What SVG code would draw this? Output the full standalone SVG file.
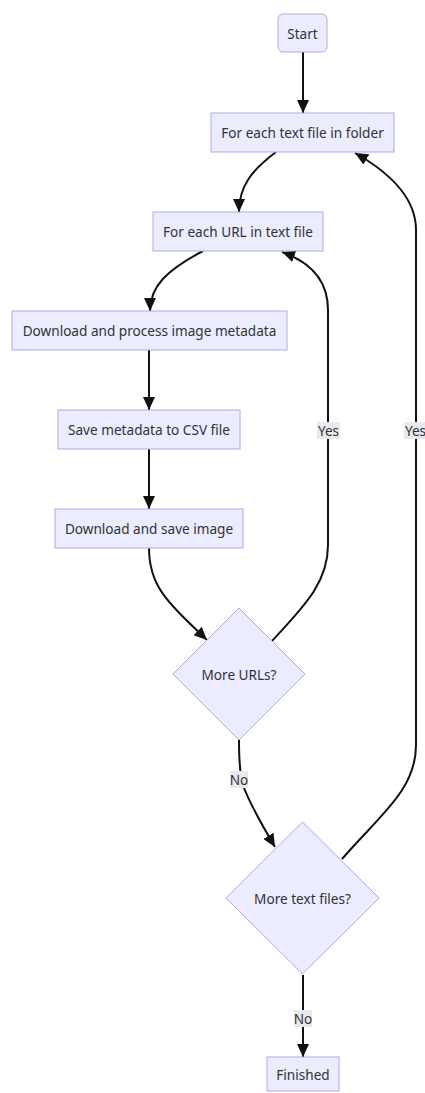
<svg xmlns="http://www.w3.org/2000/svg" width="425" height="1093" viewBox="0 0 425 1093">
<defs>
<style>
.node rect, .node polygon { fill: #ECECFF; stroke: #b3a8e4; stroke-width: 1; }
.node text { font-family: "Noto Sans", "Open Sans", sans-serif; font-size: 13.6px; fill: #333; text-anchor: middle; dominant-baseline: central; }
.edge { fill: none; stroke: #111; stroke-width: 2; }
.lbl rect { fill: #e8e8ee; }
.lbl text { font-family: "Noto Sans", "Open Sans", sans-serif; font-size: 13.6px; fill: #333; text-anchor: middle; dominant-baseline: central; }
</style>
<marker id="arr" viewBox="0 0 13 12" refX="13" refY="6" markerWidth="13" markerHeight="12" markerUnits="userSpaceOnUse" orient="auto">
<path d="M0,0 L13,6 L0,12 Z" fill="#111"/>
</marker>
</defs>
<rect width="425" height="1093" fill="#ffffff"/>
<g id="connectors">
<path class="edge" d="M303,52 L303,113" marker-end="url(#arr)"/>
<path class="edge" d="M276,152 C252,170 239,186 239,212" marker-end="url(#arr)"/>
<path class="edge" d="M203,251 C167,270 150,286 150,311" marker-end="url(#arr)"/>
<path class="edge" d="M149,350 L149,410" marker-end="url(#arr)"/>
<path class="edge" d="M149,449 L149,509" marker-end="url(#arr)"/>
<path class="edge" d="M149,548 C149,585 165,600 207,640" marker-end="url(#arr)"/>
<path class="edge" d="M272,641 C300,610 328,585 328,545 L328,310 C328,280 310,262 282,252" marker-end="url(#arr)"/>
<path class="edge" d="M239,740 C239,760 240,775 243,785 C248,800 262,825 275,847" marker-end="url(#arr)"/>
<path class="edge" d="M342,859 C380,815 416,790 416,745 L416,230 C416,195 385,170 355,153" marker-end="url(#arr)"/>
<path class="edge" d="M303,975 L303,1057" marker-end="url(#arr)"/>
<g class="lbl"><rect x="317" y="422" width="23" height="17"/><text x="328.5" y="430.5">Yes</text></g>
<g class="lbl"><rect x="404" y="422" width="23" height="17"/><text x="415.5" y="430.5">Yes</text></g>
<g class="lbl"><rect x="230" y="771" width="18" height="17"/><text x="239" y="779.5">No</text></g>
<g class="lbl"><rect x="294" y="1010" width="18" height="17"/><text x="303" y="1018.5">No</text></g>
</g>
<g id="start" class="node"><rect x="278" y="14" width="49" height="38" rx="5"/><text x="302.5" y="33">Start</text></g>
<g id="eachText" class="node"><rect x="211" y="113" width="183" height="39"/><text x="302.5" y="132.5">For each text file in folder</text></g>
<g id="eachUrl" class="node"><rect x="153" y="212" width="170" height="39"/><text x="238" y="231.5">For each URL in text file</text></g>
<g id="download" class="node"><rect x="12" y="311" width="275" height="39"/><text x="149.5" y="330.5">Download and process image metadata</text></g>
<g id="saveCsv" class="node"><rect x="58" y="410" width="182" height="39"/><text x="149" y="429.5">Save metadata to CSV file</text></g>
<g id="saveImage" class="node"><rect x="55" y="509" width="188" height="39"/><text x="149" y="528.5">Download and save image</text></g>
<g id="moreUrls" class="node"><polygon points="239,608 305,674 239,740 173,674"/><text x="239" y="674">More URLs?</text></g>
<g id="moreFiles" class="node"><polygon points="302.5,822 379,898 302.5,974 226,898"/><text x="302.5" y="898">More text files?</text></g>
<g id="finished" class="node"><rect x="267" y="1057" width="72" height="34"/><text x="303" y="1074">Finished</text></g>
</svg>
